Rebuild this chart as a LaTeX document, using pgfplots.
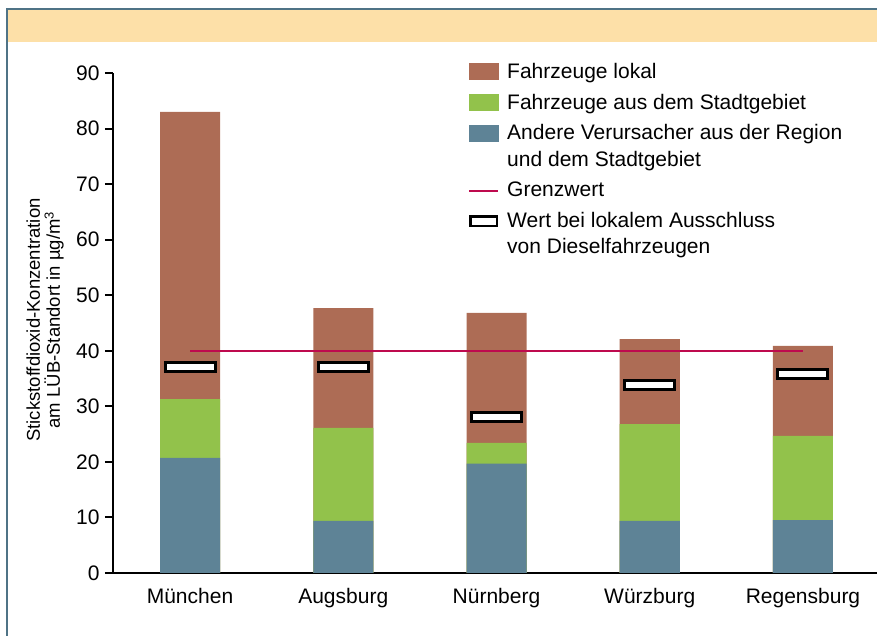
\documentclass[border=0pt]{standalone}
\usepackage{fontspec}
\setmainfont{Liberation Sans}
\usepackage{pgfplots}
\pgfplotsset{compat=1.18}

\definecolor{lokal}{HTML}{AD6C55}
\definecolor{stadt}{HTML}{92C24B}
\definecolor{region}{HTML}{5E8396}
\definecolor{grenz}{HTML}{BE0A4E}
\definecolor{band}{HTML}{FDE0A8}
\definecolor{frame}{HTML}{4F7386}

% white box with black rim, 53 x 12 outer
\pgfdeclareplotmark{wbox}{%
  \pgfpathrectangle{\pgfpoint{-25pt}{-4.5pt}}{\pgfpoint{50pt}{9pt}}%
  \pgfusepathqfillstroke}

\begin{document}
\begin{tikzpicture}[x=1pt,y=1pt]
\useasboundingbox (-113,-63) rectangle (764,573);
\fill[band] (-106,531) rectangle (764,563);
\draw[frame, line width=2pt] (-106,-70) -- (-106,564) -- (770,564);

\begin{axis}[
  at={(0,0)}, anchor=south west,
  scale only axis, width=764pt, height=500pt,
  xmin=-0.5026, xmax=4.483, ymin=0, ymax=90,
  axis x line=bottom, axis y line=left,
  axis line style={-, line width=2.5pt, black},
  ytick={0,10,...,90},
  xtick={0,1,2,3,4},
  xticklabels={München,Augsburg,Nürnberg,Würzburg,Regensburg},
  major x tick style={draw=none},
  major y tick style={line width=2pt, black},
  tick align=outside, major tick length=8pt,
  font=\fontsize{21}{25}\selectfont,
  /pgf/number format/assume math mode=true,
  xticklabel style={anchor=base, yshift=-23pt},
  yticklabel style={xshift=-2pt},
  ylabel={Stickstoffdioxid-Konzentration\\am LÜB-Standort in µg/m\textsuperscript{3}},
  ylabel style={align=center, font=\fontsize{18.5}{20}\selectfont,
    at={(axis description cs:-0.089,0.506)}, anchor=center},
  legend style={at={(0.4647,1.02)}, anchor=north west, draw=none, fill=none,
    inner sep=0pt, row sep=14pt, column sep=8pt,
    font=\fontsize{21}{26.5}\selectfont,
    nodes={inner sep=0pt, anchor=base west, align=left}},
  legend cell align=left,
]
% legend entries in the order of the reference
% (two-line entries sit on their last line, so their symbol is lifted by one line)
\addlegendimage{legend image code/.code={\fill[lokal] (0pt,-1pt) rectangle (29pt,15pt);}}
\addlegendentry{Fahrzeuge lokal}
\addlegendimage{legend image code/.code={\fill[stadt] (0pt,-1pt) rectangle (29pt,15pt);}}
\addlegendentry{Fahrzeuge aus dem Stadtgebiet}
\addlegendimage{legend image code/.code={\fill[region] (0pt,25.5pt) rectangle (29pt,41.5pt);}}
\addlegendentry{Andere Verursacher aus der Region\\und dem Stadtgebiet}
\addlegendimage{legend image code/.code={\draw[grenz, line width=2pt] (0pt,6pt) -- (29pt,6pt);}}
\addlegendentry{Grenzwert}
\addlegendimage{legend image code/.code={\draw[black, line width=2.5pt, fill=white] (1.25pt,27.75pt) rectangle (27.75pt,37.25pt);}}
\addlegendentry{Wert bei lokalem Ausschluss\\von Dieselfahrzeugen}

% bars: cumulative tops, drawn back to front
\addplot[ybar, bar width=60pt, bar shift=0pt, fill=lokal, draw=none, forget plot] coordinates {
  (0,83.0) (1,47.7) (2,46.8) (3,42.1) (4,40.9)};
\addplot[ybar, bar width=60pt, bar shift=0pt, fill=stadt, draw=none, forget plot] coordinates {
  (0,31.3) (1,26.1) (2,23.4) (3,26.8) (4,24.7)};
\addplot[ybar, bar width=60pt, bar shift=0pt, fill=region, draw=none, forget plot] coordinates {
  (0,20.7) (1,9.4) (2,19.7) (3,9.4) (4,9.5)};

% limit value
\addplot[grenz, line width=2pt, forget plot] coordinates {(0,40) (4,40)};

% value without diesel vehicles
\addplot[only marks, mark=wbox, mark options={draw=black, fill=white, line width=3pt}, forget plot]
  coordinates {(0,37.0) (1,37.0) (2,28.0) (3,33.9) (4,35.9)};
\end{axis}
\end{tikzpicture}
\end{document}
